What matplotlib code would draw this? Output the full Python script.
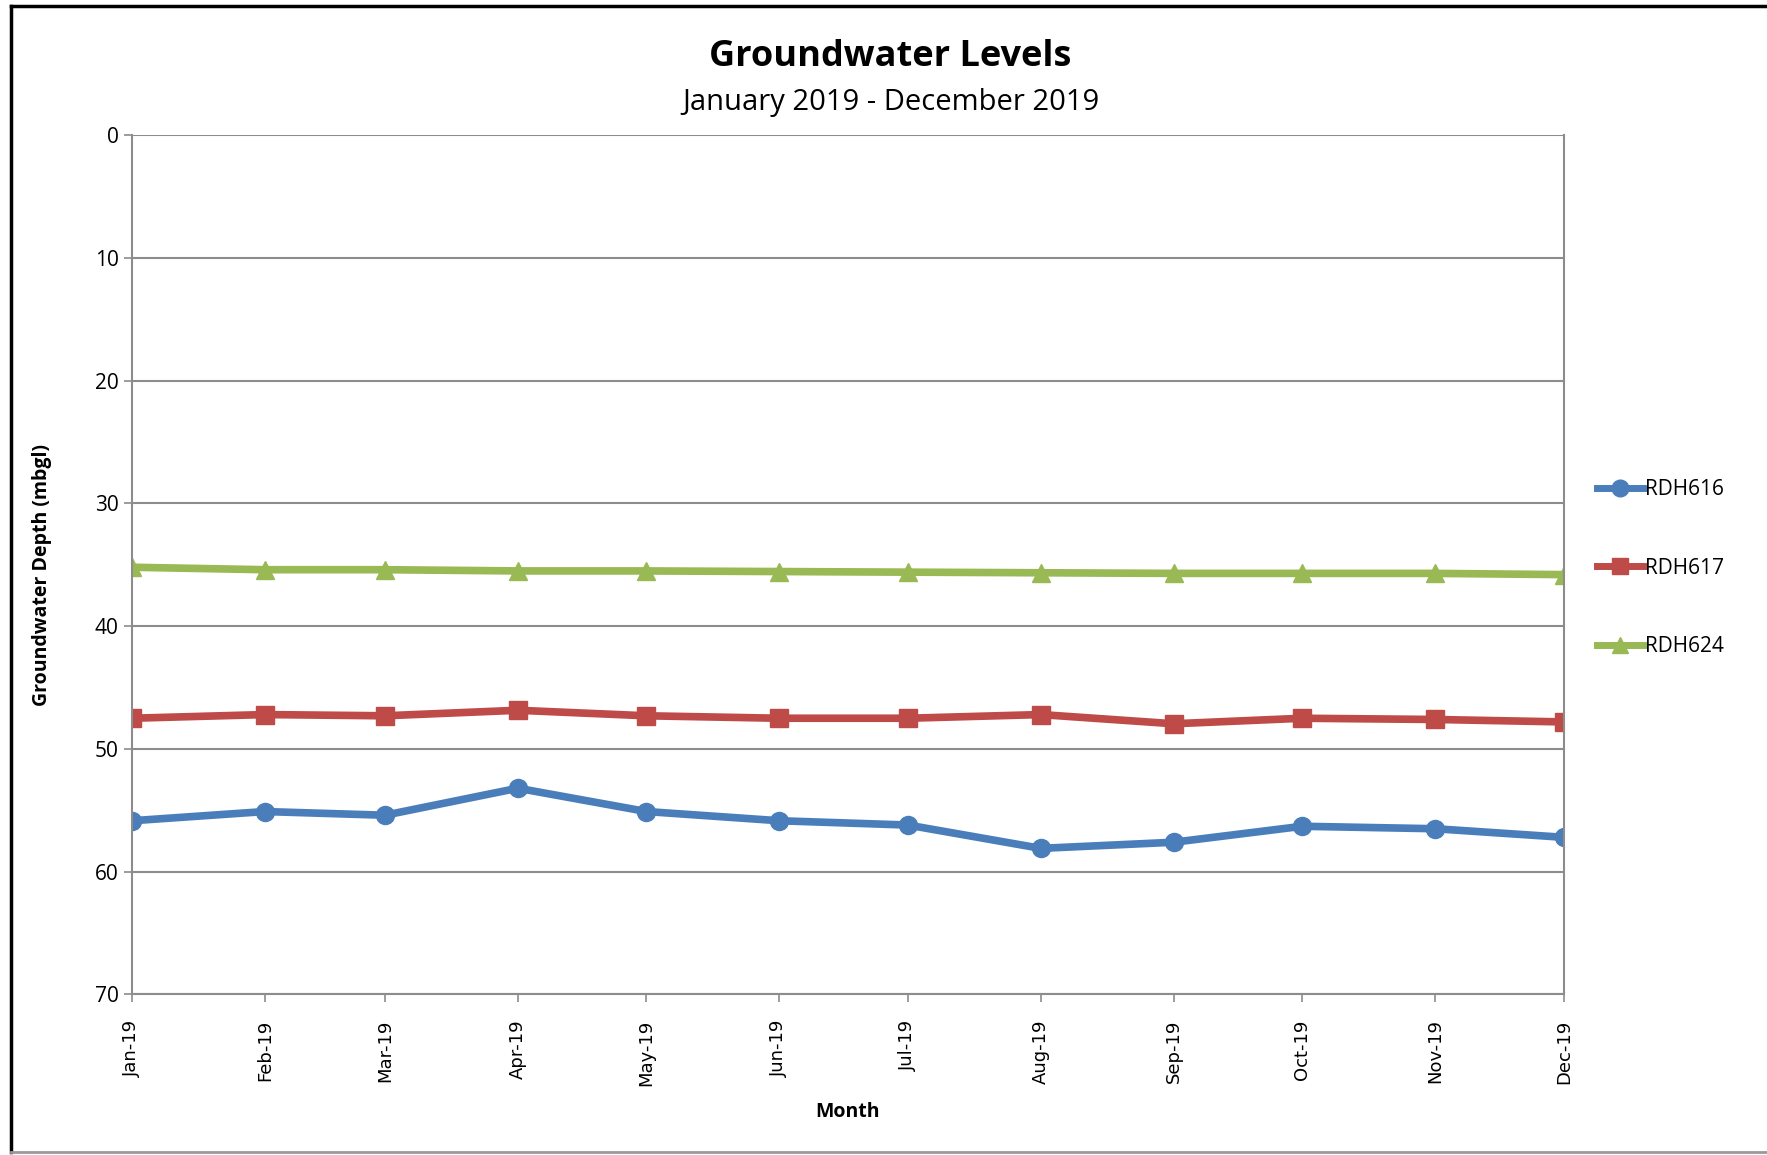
import numpy as np
import matplotlib
matplotlib.use("Agg")
import matplotlib.pyplot as plt
import matplotlib.dates as mdates
from matplotlib.lines import Line2D
from datetime import datetime

plt.rcParams['font.family'] = ['Open Sans', 'DejaVu Sans']

months = [datetime(2019, m, 1) for m in range(1, 13)]
rdh616 = [55.85, 55.1, 55.4, 53.2, 55.1, 55.85, 56.2, 58.1, 57.6, 56.3, 56.5, 57.2]
rdh617 = [47.5, 47.2, 47.3, 46.85, 47.3, 47.5, 47.5, 47.2, 47.95, 47.5, 47.6, 47.8]
rdh624 = [35.2, 35.4, 35.4, 35.5, 35.5, 35.55, 35.6, 35.65, 35.7, 35.7, 35.7, 35.8]

series = [("RDH616", rdh616, "#4A7EBB", "o"),
          ("RDH617", rdh617, "#BE4B48", "s"),
          ("RDH624", rdh624, "#98B954", "^")]

fig = plt.figure(figsize=(17.67, 11.55), dpi=100)
ax = fig.add_axes([0.0747, 0.139, 0.8103, 0.744])

for name, vals, col, mk in series:
    ax.plot(months, vals, color=col, lw=5.5, marker=mk, ms=13, label=name)

ax.set_ylim(70, 0)
ax.set_yticks(np.arange(0, 71, 10))
ax.set_xlim(months[0], months[-1])
ax.set_xticks(months)
ax.xaxis.set_major_formatter(mdates.DateFormatter('%b-%y'))
plt.setp(ax.get_xticklabels(), rotation=90, fontsize=13, family='DejaVu Sans')
plt.setp(ax.get_yticklabels(), fontsize=15)
ax.yaxis.grid(True, color='#8c8c8c', lw=1.5)
ax.set_axisbelow(True)
for s in ax.spines.values():
    s.set_color('#8c8c8c')
    s.set_linewidth(1.5)
ax.spines['top'].set_visible(False)
ax.tick_params(axis='both', color='#8c8c8c', length=6, width=1.2)
ax.tick_params(axis='x', pad=12)

fig.text(0.504, 0.951, "Groundwater Levels", ha='center', va='center', fontsize=26, fontweight='bold')
fig.text(0.504, 0.911, "January 2019 - December 2019", ha='center', va='center', fontsize=21)
ax.set_xlabel("Month", fontsize=14, fontweight='bold', labelpad=12)
fig.text(0.024, 0.502, "Groundwater Depth (mbgl)", rotation=90, ha='center', va='center',
         fontsize=14, fontweight='bold')

handles = [Line2D([0], [0], color=c, lw=5, marker=m, ms=12) for _, _, c, m in series]
fig.legend(handles, [s[0] for s in series], loc='center left', bbox_to_anchor=(0.893, 0.508),
           frameon=False, fontsize=15, labelspacing=2.75, handlelength=2.2, handletextpad=0.1)

# outer frame
fig.add_artist(Line2D([0.006, 0.006], [0.003, 0.995], color='black', lw=2.5))
fig.add_artist(Line2D([0.006, 1.0], [0.995, 0.995], color='black', lw=2.5))
fig.add_artist(Line2D([0.006, 1.0], [0.003, 0.003], color='#999999', lw=2))

fig.savefig("out.png", dpi=100)
